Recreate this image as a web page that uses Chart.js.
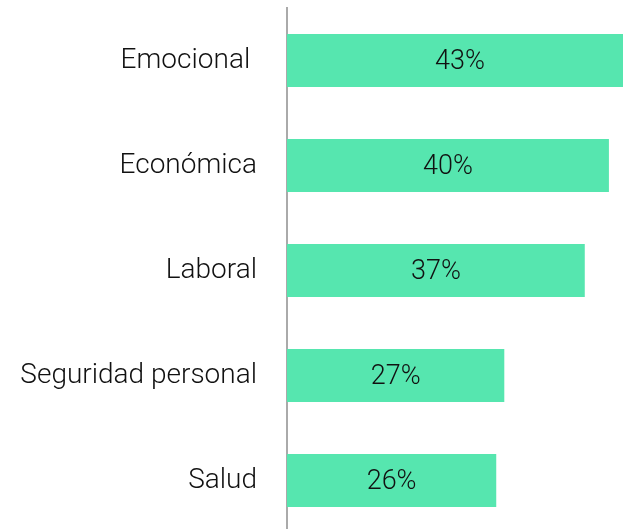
<!DOCTYPE html>
<html>
<head>
<meta charset="utf-8">
<script src="https://cdn.jsdelivr.net/npm/chart.js@4/dist/chart.umd.min.js"></script>
<style>
  html, body { margin: 0; padding: 0; background: #ffffff; overflow: hidden; }
  #wrap { position: relative; width: 623px; height: 534px; }
</style>
</head>
<body>
<div id="wrap"><canvas id="c"></canvas></div>
<script>
const categories = ["Emocional ", "Económica", "Laboral", "Seguridad personal", "Salud"];
const values = [43, 40, 37, 27, 26];
const valueLabels = ["43%", "40%", "37%", "27%", "26%"];

const FONT = "Roboto, 'Liberation Sans', sans-serif";

const barValueLabels = {
  id: 'barValueLabels',
  afterDatasetsDraw(chart) {
    const ctx = chart.ctx;
    const meta = chart.getDatasetMeta(0);
    ctx.save();
    ctx.font = "300 27px " + FONT;
    ctx.fillStyle = "#111111";
    ctx.textAlign = "center";
    ctx.textBaseline = "middle";
    meta.data.forEach((bar, i) => {
      const cx = (bar.x + bar.base) / 2;
      ctx.fillText(valueLabels[i], cx, bar.y + 1.5);
    });
    ctx.restore();
  }
};

new Chart(document.getElementById('c'), {
  type: 'bar',
  data: {
    labels: categories,
    datasets: [{
      data: values,
      backgroundColor: '#56E6AF',
      borderWidth: 0,
      categoryPercentage: 1,
      barPercentage: 0.505
    }]
  },
  options: {
    indexAxis: 'y',
    responsive: true,
    maintainAspectRatio: false,
    animation: false,
    layout: { padding: { top: 8, bottom: 1, left: 0, right: 0 } },
    plugins: { legend: { display: false }, tooltip: { enabled: false } },
    scales: {
      x: {
        display: false,
        min: 0,
        max: 41.75
      },
      y: {
        afterFit(scale) {
          scale.width = 287;
          scale.paddingTop = 0;
          scale.paddingBottom = 0;
        },
        grid: { display: false, drawTicks: false },
        border: { display: true, color: '#aaaaaa', width: 2 },
        ticks: {
          padding: 30,
          color: '#111111',
          font: { family: FONT, size: 28, weight: '300' }
        }
      }
    }
  },
  plugins: [barValueLabels]
});
</script>
</body>
</html>
